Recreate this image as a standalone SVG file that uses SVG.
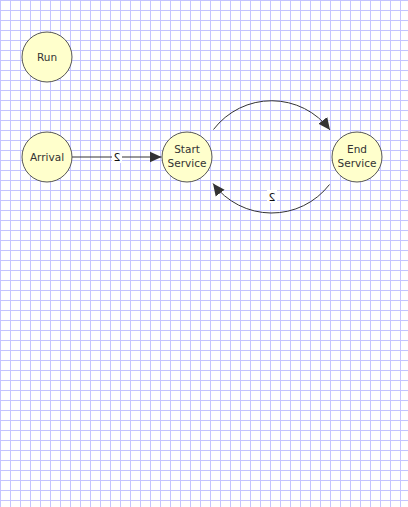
<svg xmlns="http://www.w3.org/2000/svg" width="408" height="507" viewBox="0 0 408 507">
<defs>
<pattern id="grid" width="10" height="10" patternUnits="userSpaceOnUse">
<rect x="0" y="0" width="1" height="10" fill="#c4c4ff"/>
<rect x="0" y="0" width="10" height="1" fill="#c4c4ff"/>
</pattern>
<marker id="arrow" markerUnits="userSpaceOnUse" markerWidth="14" markerHeight="12" refX="12" refY="6" orient="auto">
<path d="M0 0.5 L12 6 L0 11.5 Z" fill="#333"/>
</marker>
</defs>
<style>
.node circle{fill:#ffffcc;stroke:#555;stroke-width:1}
.node text{font-family:"DejaVu Sans",Verdana,sans-serif;font-size:10.5px;fill:#333;text-anchor:middle}
.edge{fill:none;stroke:#333;stroke-width:1;marker-end:url(#arrow)}
.lbl{font-family:"DejaVu Sans",Verdana,sans-serif;font-size:11px;fill:#111;text-anchor:middle}
.lblbg{fill:#fff}
</style>
<rect width="408" height="507" fill="#fff"/>
<rect width="408" height="507" fill="url(#grid)"/>
<g id="connectors">
<path class="edge" d="M72 157 H161.5"/>
<rect class="lblbg" x="112" y="151" width="10" height="12"/>
<text class="lbl" transform="translate(117 161) scale(-1 1)">2</text>
<path class="edge" d="M213.5 129.5 A73 73 0 0 1 330 130"/>
<path class="edge" d="M329.5 184.5 A73 73 0 0 1 213 183.5"/>
<rect class="lblbg" x="267" y="190" width="10" height="13"/>
<text class="lbl" transform="translate(272 201) scale(-1 1)">2</text>
</g>
<g id="run" class="node"><circle cx="47" cy="57" r="25"/><text x="47" y="61">Run</text></g>
<g id="arrival" class="node"><circle cx="47" cy="157" r="25"/><text x="47" y="161">Arrival</text></g>
<g id="start-service" class="node"><circle cx="187" cy="157" r="25"/><text x="187" y="153">Start</text><text x="187" y="167">Service</text></g>
<g id="end-service" class="node"><circle cx="357" cy="157" r="25"/><text x="357" y="153">End</text><text x="357" y="167">Service</text></g>
</svg>
